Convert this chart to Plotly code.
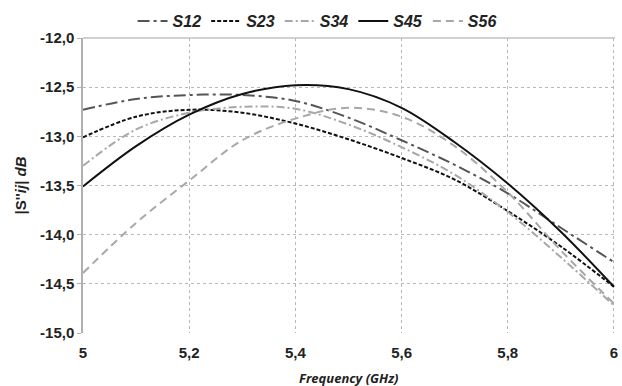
import plotly.graph_objects as go

freq = [5.0, 5.1, 5.2, 5.3, 5.4, 5.5, 5.6, 5.7, 5.8, 5.9, 6.0]
s12 = [-12.73, -12.62, -12.58, -12.58, -12.64, -12.81, -13.04, -13.29, -13.58, -13.93, -14.28]
s23 = [-13.01, -12.80, -12.73, -12.76, -12.87, -13.03, -13.22, -13.44, -13.76, -14.12, -14.53]
s34 = [-13.30, -12.93, -12.76, -12.70, -12.72, -12.88, -13.11, -13.39, -13.77, -14.23, -14.72]
s45 = [-13.51, -13.10, -12.78, -12.57, -12.48, -12.52, -12.71, -13.06, -13.48, -13.97, -14.53]
s56 = [-14.39, -13.88, -13.45, -13.04, -12.82, -12.71, -12.80, -13.10, -13.57, -14.16, -14.70]

series_names = ["S12", "S23", "S34", "S45", "S56"]
series_vals = [s12, s23, s34, s45, s56]
colors = ["#555555", "#111111", "#a8a8a8", "#111111", "#a8a8a8"]
dashes = ["12px,4px,3px,4px", "4px,2px", "8px,3px,2px,3px", "solid", "8px,5px"]

x_ticks = [5.0, 5.2, 5.4, 5.6, 5.8, 6.0]
x_ticklabels = ["5", "5,2", "5,4", "5,6", "5,8", "6"]
y_ticks = [-15.0, -14.5, -14.0, -13.5, -13.0, -12.5, -12.0]
y_ticklabels = ["-15,0", "-14,5", "-14,0", "-13,5", "-13,0", "-12,5", "-12,0"]

fig = go.Figure()
for name, vals, c, d in zip(series_names, series_vals, colors, dashes):
    fig.add_trace(go.Scatter(
        x=freq, y=vals, name="<b><i>" + name + "</i></b>", mode="lines",
        line=dict(color=c, width=2, dash=d, shape="spline", smoothing=1.0),
    ))

tick_font = dict(family="Liberation Sans, Arial", size=15, color="#222222", weight="bold")

fig.update_layout(
    width=622, height=386,
    margin=dict(l=83, r=4, t=34, b=53),
    paper_bgcolor="white", plot_bgcolor="white",
    showlegend=True,
    legend=dict(orientation="h", x=0.44, xanchor="center", y=1.0, yanchor="bottom",
                font=dict(family="Liberation Sans, Arial", size=16, color="#222222"),
                itemwidth=30, tracegroupgap=0, bgcolor="rgba(0,0,0,0)"),
    xaxis=dict(range=[5, 6.002], tickvals=x_ticks, ticktext=x_ticklabels,
               showgrid=True, gridcolor="#b8b8b8", griddash="dot", gridwidth=1,
               zeroline=False, showline=False, ticks="", ticklabelstandoff=9,
               tickfont=tick_font),
    yaxis=dict(range=[-15, -12], tickvals=y_ticks, ticktext=y_ticklabels,
               showgrid=True, gridcolor="#b8b8b8", griddash="dot", gridwidth=1,
               zeroline=False, showline=True, linecolor="#b0b0b0", linewidth=1.5,
               ticks="outside", ticklen=4, tickcolor="#b0b0b0",
               tickfont=tick_font),
    shapes=[dict(type="line", xref="paper", yref="paper", x0=0, x1=1, y0=1, y1=1,
                 line=dict(color="#c0c0c0", width=1.5))],
    annotations=[
        dict(text="<b><i>Frequency (GHz)</i></b>", xref="paper", yref="paper",
             x=0.5, y=0, yshift=-45, xanchor="center", yanchor="middle", showarrow=False,
             font=dict(family="Open Sans", size=13, color="#222222")),
        dict(text="<b>|S''<i>ij</i>| <i>dB</i></b>", xref="paper", yref="paper",
             x=0, y=0.5, xshift=-63, xanchor="center", yanchor="middle", showarrow=False,
             textangle=-90,
             font=dict(family="Liberation Sans, Arial", size=15, color="#222222")),
    ],
)

fig.write_html("out.html")
